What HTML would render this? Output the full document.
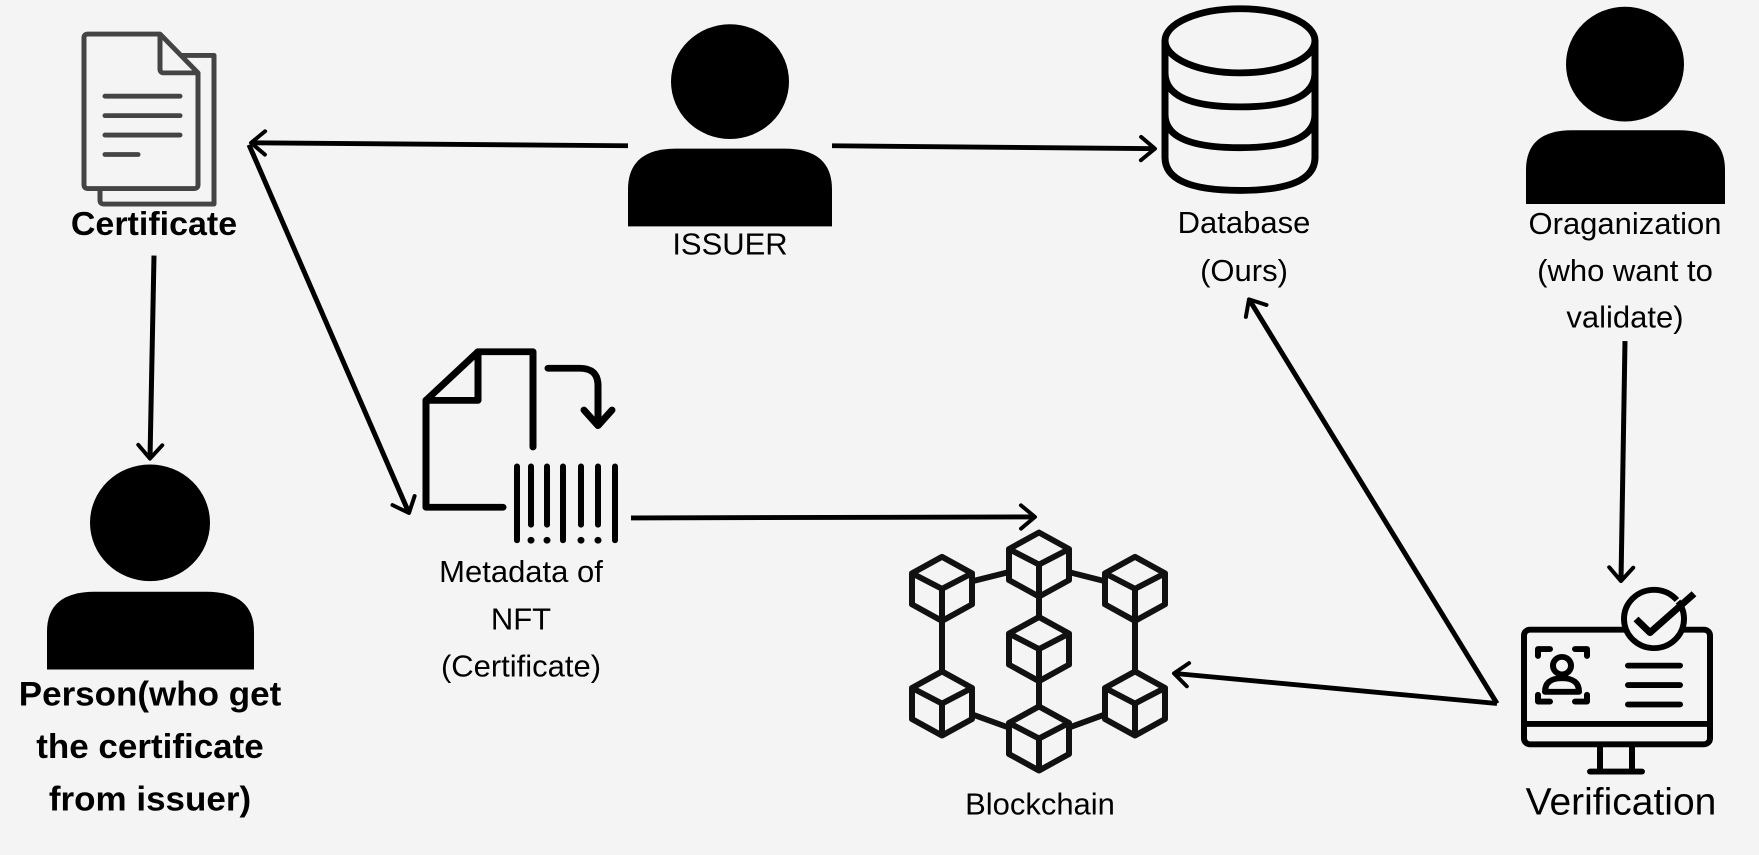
<!DOCTYPE html>
<html><head><meta charset="utf-8"><style>
html,body{margin:0;padding:0;background:#f4f4f4}
svg{display:block}
text{font-family:"Liberation Sans",sans-serif;fill:#000;text-anchor:middle}
.b{font-weight:bold}
</style></head><body>
<svg width="1759" height="855" viewBox="0 0 1759 855" xmlns="http://www.w3.org/2000/svg">
<defs>
<marker id="a" markerWidth="10" markerHeight="10" refX="8" refY="5" orient="auto" markerUnits="userSpaceOnUse" viewBox="0 0 10 10" style="overflow:visible">
<polyline points="-6,-7 8,5 -6,17" fill="none" stroke="#000" stroke-width="4" stroke-linecap="round" stroke-linejoin="round"/>
</marker>
<g id="cube">
<polygon points="0,-33 30,-16 30,16 0,33 -30,16 -30,-16" fill="#f4f4f4" stroke="#111" stroke-width="6" stroke-linejoin="round"/>
<polyline points="-30,-16 0,0 30,-16" fill="none" stroke="#111" stroke-width="6" stroke-linejoin="round"/>
<line x1="0" y1="0" x2="0" y2="33" stroke="#111" stroke-width="6"/>
</g>
</defs>
<rect width="1759" height="855" fill="#f4f4f4"/>
<g transform="scale(1,0.9717)">

<!-- Certificate icon -->
<g fill="none" stroke="#444" stroke-width="5" stroke-linejoin="round">
<path d="M100,53 H117 L121,57 H214 V210 H104 Q100,210 100,206 V194"/>
<path d="M88,35 H160 L198,75 V190 Q198,194 194,194 H88 Q84,194 84,190 V39 Q84,35 88,35 Z" fill="#f4f4f4"/>
<path d="M160,35 V71 Q160,75 164,75 H198"/>
</g>
<g stroke="#444" stroke-width="5" stroke-linecap="round">
<line x1="105" y1="99" x2="180" y2="99"/><line x1="105" y1="119" x2="180" y2="119"/>
<line x1="105" y1="139" x2="180" y2="139"/><line x1="105" y1="159" x2="138" y2="159"/>
</g>
<text x="154" y="242" class="b" font-size="34">Certificate</text>

<!-- Person -->
<circle cx="150" cy="538" r="60" fill="#000"/>
<path d="M47,689 V650 Q47,609 95,609 H206 Q254,609 254,650 V689 Z" fill="#000"/>
<text class="b" font-size="35"><tspan x="150" y="726">Person(who get</tspan><tspan x="150" y="780">the certificate</tspan><tspan x="150" y="834">from issuer)</tspan></text>

<!-- Issuer -->
<circle cx="730" cy="84" r="59" fill="#000"/>
<path d="M628,233 V195 Q628,153 676,153 H784 Q832,153 832,195 V233 Z" fill="#000"/>
<text x="730" y="262" font-size="31">ISSUER</text>

<!-- Database -->
<g fill="none" stroke="#000" stroke-width="7">
<path d="M1165,42 V162 Q1165,196 1240,196 Q1315,196 1315,162 V42"/>
<ellipse cx="1240" cy="42" rx="75" ry="33"/>
<path d="M1165,75 Q1165,110 1240,110 Q1315,110 1315,75"/>
<path d="M1165,118 Q1165,152 1240,152 Q1315,152 1315,118"/>
</g>
<text font-size="31"><tspan x="1244" y="240">Database</tspan><tspan x="1244" y="289">(Ours)</tspan></text>

<!-- Organization -->
<circle cx="1625" cy="66" r="59" fill="#000"/>
<path d="M1526,210 V175 Q1526,134 1572,134 H1679 Q1725,134 1725,175 V210 Z" fill="#000"/>
<text font-size="31"><tspan x="1625" y="241">Oraganization</tspan><tspan x="1625" y="289">(who want to</tspan><tspan x="1625" y="337">validate)</tspan></text>

<!-- Metadata icon -->
<g fill="none" stroke="#000" stroke-width="7" stroke-linejoin="round" stroke-linecap="round">
<path d="M503,522 H426 V412 L478,362 H533 V460"/>
<path d="M426,412 H478 V362"/>
<path d="M548,379 H580 Q598,379 598,397 V432"/>
<polyline points="584,422 598,438 612,422"/>
</g>
<g stroke="#000" stroke-width="6" stroke-linecap="round">
<line x1="517" y1="480" x2="517" y2="556"/><line x1="531" y1="480" x2="531" y2="540"/>
<line x1="547" y1="480" x2="547" y2="540"/><line x1="563" y1="480" x2="563" y2="556"/>
<line x1="581" y1="480" x2="581" y2="540"/><line x1="598" y1="480" x2="598" y2="540"/>
<line x1="615" y1="480" x2="615" y2="556"/>
</g>
<g fill="#000"><circle cx="531" cy="556" r="3.5"/><circle cx="547" cy="556" r="3.5"/><circle cx="581" cy="556" r="3.5"/><circle cx="598" cy="556" r="3.5"/></g>
<text font-size="31"><tspan x="521" y="599">Metadata of</tspan><tspan x="521" y="648">NFT</tspan><tspan x="521" y="696">(Certificate)</tspan></text>

<!-- Blockchain -->
<g stroke="#111" stroke-width="6">
<line x1="1039" y1="581" x2="942" y2="606"/><line x1="1039" y1="581" x2="1135" y2="606"/>
<line x1="942" y1="606" x2="942" y2="724"/><line x1="1135" y1="606" x2="1135" y2="724"/>
<line x1="942" y1="724" x2="1039" y2="760"/><line x1="1135" y1="724" x2="1039" y2="760"/>
<line x1="1039" y1="581" x2="1039" y2="760"/>
</g>
<use href="#cube" x="1039" y="581"/><use href="#cube" x="942" y="606"/><use href="#cube" x="1135" y="606"/>
<use href="#cube" x="1039" y="668"/><use href="#cube" x="942" y="724"/><use href="#cube" x="1135" y="724"/>
<use href="#cube" x="1039" y="760"/>
<text x="1040" y="838" font-size="31">Blockchain</text>

<!-- Verification icon -->
<g fill="none" stroke="#000" stroke-width="6" stroke-linejoin="round" stroke-linecap="round">
<rect x="1524" y="648" width="186" height="118" rx="6"/>
<line x1="1524" y1="745" x2="1710" y2="745"/>
<line x1="1600" y1="766" x2="1600" y2="792"/><line x1="1632" y1="766" x2="1632" y2="792"/>
<line x1="1590" y1="794" x2="1642" y2="794"/>
<path d="M1538,675 V668 H1550 M1575,668 H1587 V675 M1587,715 V722 H1575 M1550,722 H1538 V715"/>
<circle cx="1562" cy="685" r="9"/>
<path d="M1545,712 Q1545,698 1562,698 Q1579,698 1579,712 Z"/>
<line x1="1628" y1="685" x2="1680" y2="685"/><line x1="1628" y1="705" x2="1680" y2="705"/><line x1="1628" y1="725" x2="1680" y2="725"/>
</g>
<circle cx="1654" cy="637" r="30" fill="#f4f4f4" stroke="#000" stroke-width="6"/>
<path d="M1636,637 L1650,651 L1694,611" fill="none" stroke="#000" stroke-width="7" stroke-linejoin="round"/>
<path d="M1640,633 L1650,643 L1690,607" fill="none" stroke="#f4f4f4" stroke-width="2"/>
<text x="1621" y="838" font-size="39">Verification</text>

<!-- Arrows -->
<g stroke="#000" stroke-width="5" fill="none">
<line x1="628" y1="150" x2="251" y2="147" marker-end="url(#a)"/>
<line x1="832" y1="150" x2="1155" y2="153" marker-end="url(#a)"/>
<line x1="249" y1="149" x2="409" y2="528" marker-end="url(#a)"/>
<line x1="154" y1="263" x2="150" y2="472" marker-end="url(#a)"/>
<line x1="631" y1="533" x2="1035" y2="532" marker-end="url(#a)"/>
<line x1="1497" y1="724" x2="1249" y2="308" marker-end="url(#a)"/>
<line x1="1625" y1="351" x2="1621" y2="598" marker-end="url(#a)"/>
<line x1="1497" y1="724" x2="1174" y2="693" marker-end="url(#a)"/>
</g>
</g>
</svg>
</body></html>
